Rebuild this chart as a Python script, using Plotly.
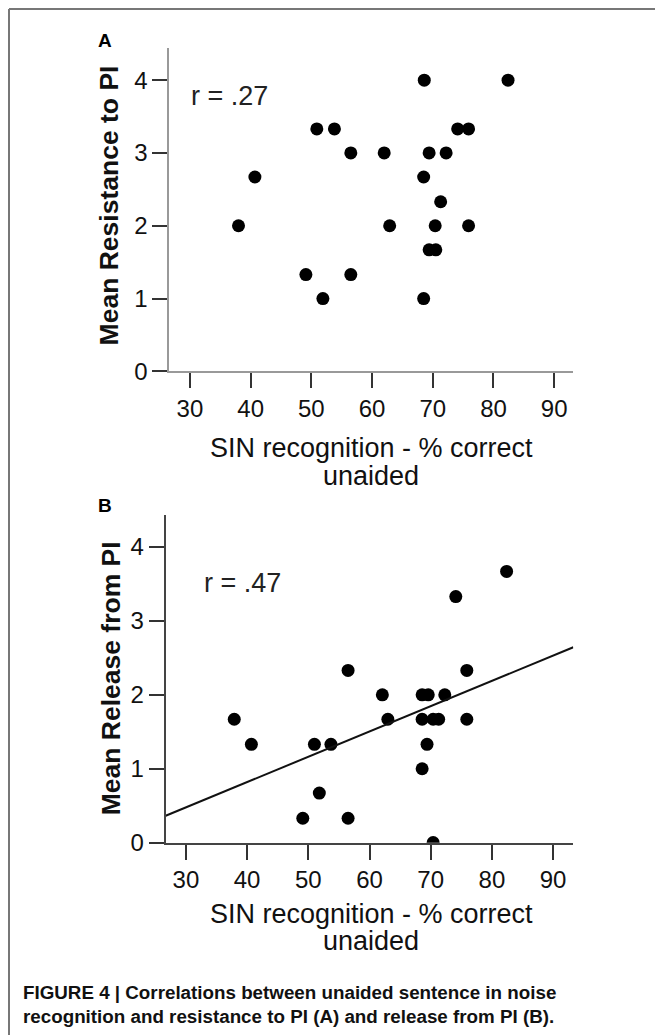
import numpy as np
import plotly.graph_objects as go

# Panel A data: SIN recognition (% correct, unaided) vs mean resistance to PI
sin_a = [68.6, 82.4, 50.9, 53.8, 74.1, 75.9, 56.5, 62.0, 69.4, 72.2, 40.7, 68.5,
         71.3, 38.0, 62.9, 70.4, 75.9, 69.4, 70.5, 49.1, 56.5, 51.9, 68.5]
resist_a = [4.0, 4.0, 3.33, 3.33, 3.33, 3.33, 3.0, 3.0, 3.0, 3.0, 2.67, 2.67,
            2.33, 2.0, 2.0, 2.0, 2.0, 1.67, 1.67, 1.33, 1.33, 1.0, 1.0]

# Panel B data: SIN recognition vs mean release from PI
sin_b = [82.4, 74.1, 56.5, 75.9, 62.1, 68.6, 69.6, 72.3, 37.9, 63.0, 68.6, 70.4,
         71.3, 75.9, 40.7, 51.0, 53.7, 69.4, 68.6, 51.8, 49.1, 56.5, 70.4]
release_b = [3.67, 3.33, 2.33, 2.33, 2.0, 2.0, 2.0, 2.0, 1.67, 1.67, 1.67, 1.67,
             1.67, 1.67, 1.33, 1.33, 1.33, 1.33, 1.0, 0.67, 0.33, 0.33, 0.0]

x_ticks = [30, 40, 50, 60, 70, 80, 90]
y_ticks = [0, 1, 2, 3, 4]
r_a_label = "r = .27"
r_b_label = "r = .47"
x_title_lines = ["SIN recognition - % correct", "unaided"]
y_title_a = "Mean Resistance to PI"
y_title_b = "Mean Release from PI"
caption = ("FIGURE 4 | Correlations between unaided sentence in noise<br>"
           "recognition and resistance to PI (A) and release from PI (B).")

W, H = 655, 1050
REF_W, REF_H = 655, 1035
FONT = "Liberation Sans, Arial, sans-serif"


def px(x):
    return x / REF_W


def py(y):
    return 1 - y / REF_H


fig = go.Figure()

fig.add_trace(go.Scatter(x=sin_a, y=resist_a, mode="markers", xaxis="x", yaxis="y",
                         marker=dict(color="black", size=13), showlegend=False))
fig.add_trace(go.Scatter(x=sin_b, y=release_b, mode="markers", xaxis="x2", yaxis="y2",
                         marker=dict(color="black", size=13), showlegend=False))

# regression line for panel B
xr_b = [26.7, 93.3]
slope, intercept = np.polyfit(sin_b, release_b, 1)
fig.add_trace(go.Scatter(x=xr_b, y=[intercept + slope * v for v in xr_b], mode="lines",
                         xaxis="x2", yaxis="y2", line=dict(color="#111", width=2),
                         showlegend=False, cliponaxis=False))

axis_common = dict(showgrid=False, zeroline=False, showline=True, ticks="outside",
                   ticklen=15, tickwidth=2, tickcolor="#333",
                   tickfont=dict(family=FONT, size=24, color="#111"))

fig.update_layout(
    width=W, height=H, margin=dict(l=0, r=0, t=0, b=0),
    paper_bgcolor="white", plot_bgcolor="white",
    xaxis=dict(domain=[px(169.3), px(573)], range=[26.6, 93.1], anchor="y",
               tickvals=x_ticks, linecolor="#999", linewidth=2, **axis_common),
    yaxis=dict(domain=[py(370.7), py(48)], range=[0, 4.44], anchor="x",
               tickvals=y_ticks, linecolor="#999", linewidth=2, **axis_common),
    xaxis2=dict(domain=[px(165.7), px(573.3)], range=[26.7, 93.3], anchor="y2",
                tickvals=x_ticks, linecolor="#444", linewidth=2, **axis_common),
    yaxis2=dict(domain=[py(841), py(514.3)], range=[0, 4.43], anchor="x2",
                tickvals=y_ticks, linecolor="#444", linewidth=2, **axis_common),
)

common = dict(xref="paper", yref="paper", showarrow=False, xanchor="center", yanchor="middle")
ann = []
ann.append(dict(text="<b>A</b>", x=px(105), y=py(40),
                font=dict(family=FONT, size=19, color="black"), **common))
ann.append(dict(text="<b>B</b>", x=px(105), y=py(505),
                font=dict(family=FONT, size=19, color="black"), **common))
ann.append(dict(text=r_a_label, x=px(229), y=py(96),
                font=dict(family=FONT, size=27, color="#222"), **common))
ann.append(dict(text=r_b_label, x=px(242), y=py(582),
                font=dict(family=FONT, size=27, color="#222"), **common))
ann.append(dict(text="<b>" + y_title_a + "</b>", x=px(109), y=py(205), textangle=-90,
                font=dict(family=FONT, size=26.5, color="#111"), **common))
ann.append(dict(text="<b>" + y_title_b + "</b>", x=px(111), y=py(677), textangle=-90,
                font=dict(family=FONT, size=26.5, color="#111"), **common))
for line_text, ya, yb in zip(x_title_lines, [447, 475], [912, 939]):
    ann.append(dict(text=line_text, x=px(371), y=py(ya),
                    font=dict(family=FONT, size=27, color="#111"), **common))
    ann.append(dict(text=line_text, x=px(371), y=py(yb),
                    font=dict(family=FONT, size=27, color="#111"), **common))
cap = dict(common)
cap.update(xanchor="left")
ann.append(dict(text="<b>" + caption + "</b>", x=px(21), y=py(1003),
                align="left", font=dict(family=FONT, size=18.8, color="#111"), **cap))
fig.update_layout(annotations=ann)

# outer frame (left and top edges)
fig.add_shape(type="line", xref="paper", yref="paper", x0=px(9), x1=px(9), y0=0, y1=py(9),
              line=dict(color="#777", width=2))
fig.add_shape(type="line", xref="paper", yref="paper", x0=px(9), x1=1, y0=py(9), y1=py(9),
              line=dict(color="#777", width=2))

fig.write_html("out.html", config={"displayModeBar": False},
               post_script="document.body.style.margin='0';document.body.style.overflow='hidden';")
